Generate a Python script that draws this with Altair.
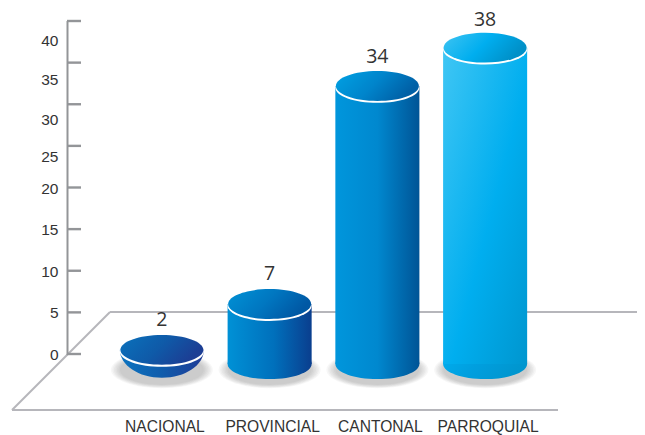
import altair as alt
import pandas as pd

categories = ["NACIONAL", "PROVINCIAL", "CANTONAL", "PARROQUIAL"]
values = [2, 7, 34, 38]
# heights, in axis units (the drawing is in perspective)
top_levels = [0.5, 6.0, 32.2, 36.8]
base_level = -1.2
shadow_level = -1.9
label_levels = [4.1, 9.6, 35.7, 40.1]

tick_values = [0, 5, 10, 15, 20, 25, 30, 35, 40]
tick_label_levels = [0, 5, 10, 15, 20, 23.8, 28.2, 33, 37.7]

body_stops = [
    [("#0d74c0", 0), ("#0f5cac", 0.5), ("#1f3b96", 1)],
    [("#0091d6", 0), ("#0070bc", 0.55), ("#0a3e8e", 1)],
    [("#0096dc", 0), ("#0088cf", 0.5), ("#005496", 1)],
    [("#40c6f4", 0), ("#00aeef", 0.55), ("#0096cf", 1)],
]
top_stops = [
    [("#0a72bc", 0), ("#0f5aa8", 0.55), ("#1c3e94", 1)],
    [("#0092d6", 0), ("#0076c0", 0.55), ("#0058a4", 1)],
    [("#00a2e4", 0), ("#0084cb", 0.55), ("#0060a6", 1)],
    [("#40c4f2", 0), ("#00aeef", 0.55), ("#0090c8", 1)],
]
last_base_stops = [("#00aeef", 0), ("#009fdf", 0.5), ("#0096cf", 1)]
shadow_widths = [84, 87, 90, 93, 96, 99, 102]

ELLIPSE = "M-1,0 A1,0.36 0 1,1 1,0 A1,0.36 0 1,1 -1,0 Z"
BOWL = "M-1,0 A1,0.667 0 0,0 1,0 Z"
GREY = "#b6b6bb"
AXISC = "#939598"
TEXTC = "#333333"
TOP = 8  # room above the plot so the highest label is clear of the edge


def grad(stops, x2=1, y2=0):
    return alt.LinearGradient(
        gradient="linear", x1=0, y1=0, x2=x2, y2=y2,
        stops=[alt.GradientStop(color=c, offset=o) for c, o in stops],
    )


xscale = alt.Scale(domain=categories, range=[100, 531], paddingInner=0.22, paddingOuter=0.11)
yscale = alt.Scale(domain=[0, 40], range=[346 - TOP, 13 - TOP], nice=False, zero=False)
X = alt.X(
    "cat:N", scale=xscale, sort=categories,
    axis=alt.Axis(
        title=None, domain=False, ticks=False, labelAngle=0, labelOffset=3,
        labelFont="Liberation Sans", labelFontSize=15.6, labelColor=TEXTC,
        labelPadding=9, labelBaseline="top", labelOverlap=False, grid=False,
    ),
)


def Y(field):
    return alt.Y(f"{field}:Q", scale=yscale, axis=None)


def seg(x1, y1, x2, y2, color, width):
    return alt.Chart(pd.DataFrame({"a": [0]})).mark_rule(color=color, strokeWidth=width).encode(
        x=alt.value(x1), x2=alt.value(x2), y=alt.value(y1 - TOP), y2=alt.value(y2 - TOP)
    )


layers = [
    seg(102, 304, 629, 304, GREY, 2),
    seg(102, 304, 4, 402, GREY, 2),
    seg(4, 402, 550, 402, GREY, 2.2),
    seg(59.5, 13, 59.5, 347, AXISC, 2),
]

ticks = pd.DataFrame({"v": tick_values, "pos": tick_label_levels, "t": [str(v) for v in tick_values]})
layers.append(
    alt.Chart(ticks).mark_rule(color=AXISC, strokeWidth=2.4).encode(
        y=Y("v"), x=alt.value(59), x2=alt.value(73)
    )
)
layers.append(
    alt.Chart(ticks).mark_text(
        font="Liberation Sans", fontSize=15.5, color=TEXTC, align="right", baseline="middle", dy=1
    ).encode(y=Y("pos"), x=alt.value(50.5), text="t:N")
)

for i, cat in enumerate(categories):
    df = pd.DataFrame({
        "cat": [cat], "top": [top_levels[i]], "base": [base_level],
        "shadow": [shadow_level], "lab": [label_levels[i]], "val": [str(values[i])],
    })
    base = alt.Chart(df)
    for w in shadow_widths:
        layers.append(
            base.mark_point(shape=ELLIPSE, size=w ** 2, filled=True, fill="#66666a", opacity=0.05, strokeWidth=0)
            .encode(x=X, y=Y("shadow"))
        )
    if i == 0:
        layers.append(
            base.mark_point(shape=BOWL, size=84 ** 2, filled=True, fill=grad(body_stops[0]), opacity=1, strokeWidth=0)
            .encode(x=X, y=Y("top"))
        )
    else:
        diag = i == 3
        body = grad(body_stops[i], x2=1, y2=1 if diag else 0)
        bottom = grad(last_base_stops, x2=1, y2=0.3) if diag else grad(body_stops[i])
        layers.append(
            base.mark_point(shape=ELLIPSE, size=84 ** 2, filled=True, fill=bottom, opacity=1, strokeWidth=0)
            .encode(x=X, y=Y("base"))
        )
        layers.append(base.mark_bar(fill=body, strokeWidth=0).encode(x=X, y=Y("top"), y2=alt.Y2("base:Q")))
    layers.append(
        base.mark_point(shape=ELLIPSE, size=84 ** 2, filled=True, fill="#ffffff", opacity=1, strokeWidth=0, yOffset=1.8)
        .encode(x=X, y=Y("top"))
    )
    layers.append(
        base.mark_point(shape=ELLIPSE, size=83 ** 2, filled=True, fill=grad(top_stops[i], x2=1, y2=0.35), opacity=1, strokeWidth=0)
        .encode(x=X, y=Y("top"))
    )
    layers.append(
        base.mark_text(font="Open Sans", fontSize=19.5, color=TEXTC, baseline="middle")
        .encode(x=X, y=Y("lab"), text="val:N")
    )

chart = (
    alt.layer(*layers)
    .properties(
        width=629, height=402 - TOP,
        autosize=alt.AutoSizeParams(type="none"),
        padding={"left": 0, "top": TOP, "right": 0, "bottom": 25},
        background="white",
    )
    .configure_view(stroke=None)
)

chart.save("out.html", embed_options={"renderer": "svg", "actions": False})
